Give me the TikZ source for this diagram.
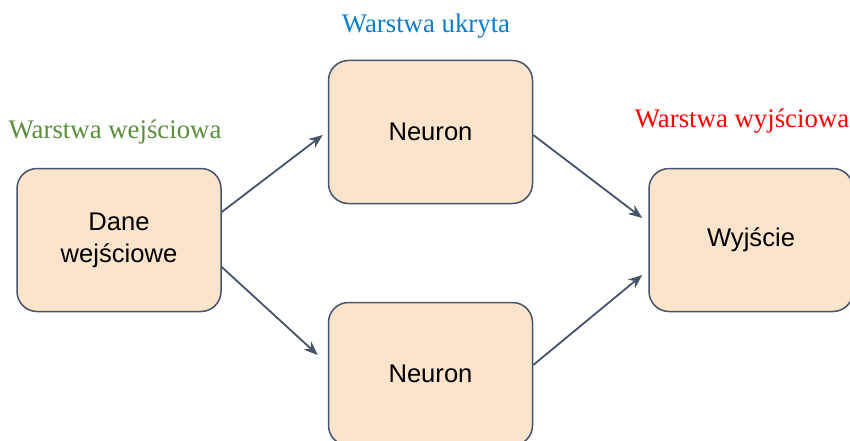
\documentclass[tikz,border=0pt]{standalone}
\usepackage{fontspec}
\setmainfont{Liberation Serif}
\newfontfamily\arialfont{Liberation Sans}
\usetikzlibrary{arrows.meta}
\definecolor{brzoskwinia}{HTML}{FCE4CC}
\definecolor{ramka}{HTML}{44546A}
\definecolor{zielony}{HTML}{5A8E3C}
\definecolor{niebieski}{HTML}{0B7DCB}
\tikzset{
  blok/.style={draw=ramka, line width=1.5pt, fill=brzoskwinia, rounded corners=20pt,
    minimum width=204pt, minimum height=143pt, align=center,
    font=\arialfont\fontsize{25.6}{32}\selectfont},
  opis/.style={font=\fontsize{26.8}{32}\selectfont},
  strzalka/.style={draw=ramka, line width=1.8pt, -{Stealth[length=14pt,width=11pt]}}
}
\begin{document}
\begin{tikzpicture}[x=1pt, y=-1pt]
\useasboundingbox (0,0) rectangle (850,441);
\node[blok] (dane) at (119,240) {Dane\\wejściowe};
\node[blok] (neuronA) at (430.5,132) {Neuron};
\node[blok] (neuronB) at (430.5,374) {Neuron};
\node[blok] (wyjscie) at (751,240) {Wyjście};
% podpisy warstw
\node[opis, text=zielony] (opisWe) at (115,132) {Warstwa wejściowa};
\node[opis, text=niebieski] (opisUk) at (426,26) {Warstwa ukryta};
\node[opis, text=red] (opisWy) at (742,121) {Warstwa wyjściowa};
% polaczenia
\draw[strzalka] ([yshift=28pt]dane.east) -- ([xshift=-5pt,yshift=-3pt]neuronA.west);
\draw[strzalka] ([yshift=-27pt]dane.east) -- ([xshift=-10pt,yshift=19pt]neuronB.west);
\draw[strzalka] ([yshift=-3pt]neuronA.east) -- ([xshift=-6pt,yshift=22pt]wyjscie.west);
\draw[strzalka] ([yshift=9pt]neuronB.east) -- ([xshift=-6pt,yshift=-35pt]wyjscie.west);
\end{tikzpicture}
\end{document}
